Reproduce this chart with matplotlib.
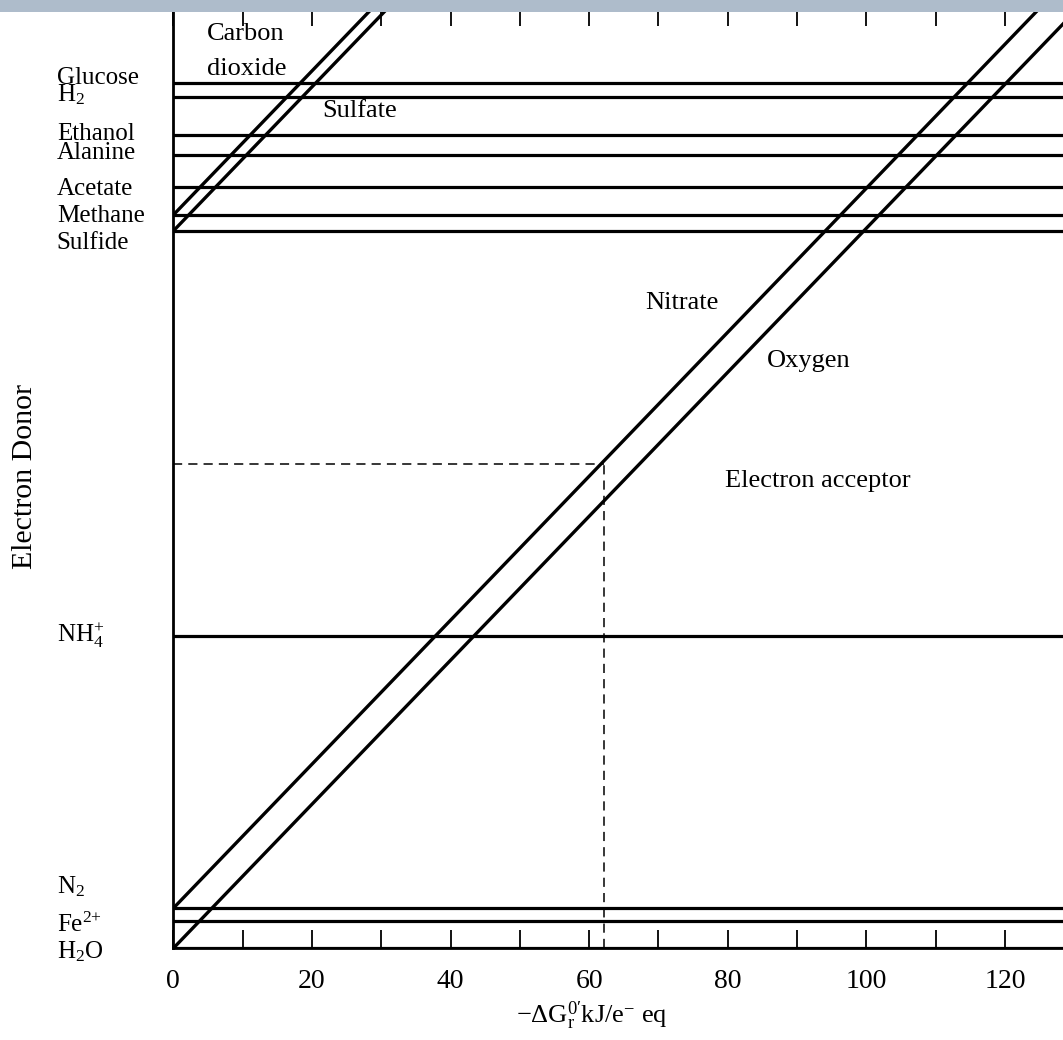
import matplotlib
matplotlib.use("Agg")
import matplotlib.pyplot as plt
from matplotlib.patches import Rectangle

plt.rcParams['font.family'] = ['Liberation Serif', 'DejaVu Serif']
plt.rcParams['mathtext.fontset'] = 'custom'
plt.rcParams['mathtext.rm'] = 'Liberation Serif'
plt.rcParams['mathtext.it'] = 'Liberation Serif:italic'
plt.rcParams['mathtext.default'] = 'regular'

# electron donor levels (kJ/e- eq)
donors = ['Glucose', 'H$_2$', 'Ethanol', 'Alanine', 'Acetate', 'Methane', 'Sulfide',
          'NH$_4^{+}$', 'N$_2$', 'Fe$^{2{+}}$', 'H$_2$O']
donor_dg = [41.42, 39.47, 34.24, 31.46, 27.02, 23.13, 20.91, -35.35, -73.16, -74.93, -78.72]
# label baselines (placed a bit off the lines, as in the original)
label_y = [41.33, 38.96, 33.54, 30.90, 25.90, 22.15, 18.40, -36.18, -71.04, -76.45, -80.06]

# electron acceptor intercepts at x = 0
acceptors = ['Carbon\ndioxide', 'Sulfate', 'Nitrate', 'Oxygen']
acceptor_dg = [23.13, 20.91, -73.16, -78.72]

# example read-off (dashed)
ex_x = 62.2
ex_y = -11.5

xmin, xmax = 0, 128.38
ymin, ymax = -78.72, 51.95

fig = plt.figure(figsize=(10.63, 10.40), dpi=100)
fig.patches.append(Rectangle((0, 1 - 12 / 1040), 1, 12 / 1040, transform=fig.transFigure,
                             facecolor='#aebccb', edgecolor='none', zorder=0))
ax = fig.add_axes([173.3 / 1063, 91.7 / 1040, 1 - 173.3 / 1063, (1032.5 - 91.7) / 1040])
ax.patch.set_visible(False)
ax.set_xlim(xmin, xmax)
ax.set_ylim(ymin, ymax)

for v in donor_dg:
    ax.plot([xmin, xmax], [v, v], color='black', lw=2.3, solid_capstyle='butt')

for a in acceptor_dg:
    ax.plot([0, ymax - a + 2], [a, ymax + 2], color='black', lw=2.4)

ax.plot([0, ex_x], [ex_y, ex_y], color='black', lw=1.1, ls=(0, (6, 4)))
ax.plot([ex_x, ex_x], [ymin, ex_y], color='black', lw=1.1, ls=(0, (6, 4)))

for name, y in zip(donors, label_y):
    ax.text(-16.8, y, name, fontsize=18, ha='left', va='baseline', clip_on=False)

ax.text(4.8, 47.43, 'Carbon', fontsize=19, va='baseline')
ax.text(4.8, 42.57, 'dioxide', fontsize=19, va='baseline')
ax.text(21.5, 36.78, 'Sulfate', fontsize=19, va='baseline')
ax.text(68.1, 10.07, 'Nitrate', fontsize=19, va='baseline')
ax.text(85.7, 2.02, 'Oxygen', fontsize=19, va='baseline')
ax.text(79.6, -14.65, 'Electron acceptor', fontsize=19, va='baseline')

ax.set_xticks(range(0, 121, 20))
ax.set_xticks(range(10, 121, 20), minor=True)
ax.set_yticks([])
ax.tick_params(axis='x', which='both', direction='in', length=13, width=1.3,
               top=True, labelsize=20, pad=15)
ax.spines['right'].set_visible(False)
for s in ['left', 'bottom', 'top']:
    ax.spines[s].set_linewidth(2)

fig.text(25 / 1063, 0.5418, 'Electron Donor', fontsize=21.5, rotation=90,
         ha='center', va='center')
fig.text(592 / 1063, 17 / 1040, r'$-\Delta G_{r}^{0\prime}$kJ/e$^{-}$ eq', fontsize=19,
         ha='center', va='baseline')

fig.savefig('out.png', dpi=100)
